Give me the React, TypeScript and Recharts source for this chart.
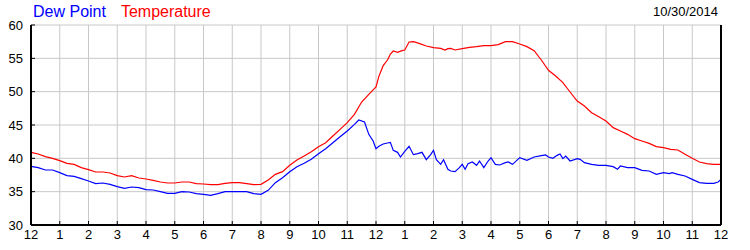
import { LineChart, Line, XAxis, YAxis, CartesianGrid } from "recharts"

const hourTicks = [0, 1, 2, 3, 4, 5, 6, 7, 8, 9, 10, 11, 12, 13, 14, 15, 16, 17, 18, 19, 20, 21, 22, 23, 24]
const hourLabels = ["12", "1", "2", "3", "4", "5", "6", "7", "8", "9", "10", "11", "12", "1", "2", "3", "4", "5", "6", "7", "8", "9", "10", "11", "12"]
const degreeTicks = [30, 35, 40, 45, 50, 55, 60]

const tempHours = [
    0, 0.25, 0.5, 0.75, 1, 1.25, 1.5, 1.75, 2, 2.25, 2.5, 2.75, 3, 3.25, 3.5, 3.75,
    4, 4.25, 4.5, 4.75, 5, 5.25, 5.5, 5.75, 6, 6.25, 6.5, 6.75, 7, 7.25, 7.5, 7.75,
    8, 8.25, 8.5, 8.75, 9, 9.25, 9.5, 9.75, 10, 10.25, 10.5, 10.75, 11, 11.25, 11.5, 11.75,
    12, 12.1, 12.25, 12.4, 12.5, 12.6, 12.75, 12.9, 13, 13.15, 13.3, 13.5, 13.75,
    14, 14.25, 14.4, 14.5, 14.6, 14.75, 15, 15.25, 15.5, 15.75, 16, 16.25, 16.5, 16.75,
    17, 17.25, 17.5, 17.75, 18, 18.25, 18.5, 18.75, 19, 19.25, 19.5, 19.75,
    20, 20.25, 20.5, 20.75, 21, 21.25, 21.5, 21.75, 22, 22.25, 22.5, 22.75, 23, 23.25, 23.5, 23.75, 24,
]
const tempValues = [
    40.9, 40.65, 40.25, 40.0, 39.65, 39.25, 39.1, 38.6, 38.3, 37.95, 37.95, 37.8, 37.4, 37.2, 37.4, 37.05,
    36.9, 36.7, 36.45, 36.3, 36.3, 36.45, 36.45, 36.2, 36.15, 36.05, 36.05, 36.25, 36.35, 36.35, 36.2, 36.05,
    36.1, 36.75, 37.6, 38.0, 38.95, 39.75, 40.35, 41.0, 41.75, 42.35, 43.35, 44.35, 45.35, 46.6, 48.45, 49.6,
    50.7, 52.3, 53.9, 54.75, 55.65, 56.1, 55.9, 56.15, 56.25, 57.45, 57.5, 57.25, 56.85,
    56.6, 56.5, 56.25, 56.45, 56.5, 56.25, 56.45, 56.65, 56.75, 56.9, 56.9, 57.05, 57.5, 57.5,
    57.15, 56.75, 56.15, 54.75, 53.2, 52.35, 51.35, 49.95, 48.6, 47.85, 46.85, 46.25,
    45.6, 44.6, 44.1, 43.6, 42.95, 42.6, 42.25, 41.75, 41.6, 41.35, 41.25, 40.6, 40.0, 39.45, 39.2, 39.1, 39.1,
]

const dewHours = [
    0, 0.25, 0.5, 0.75, 1, 1.25, 1.5, 1.75, 2, 2.25, 2.5, 2.75, 3, 3.25, 3.5, 3.75,
    4, 4.25, 4.5, 4.75, 5, 5.25, 5.5, 5.75, 6, 6.25, 6.5, 6.75, 7, 7.25, 7.5, 7.75,
    8, 8.25, 8.5, 8.75, 9, 9.25, 9.5, 9.75, 10, 10.25, 10.5, 10.75, 11, 11.25, 11.4, 11.6, 11.75, 11.9,
    12, 12.1, 12.25, 12.4, 12.5, 12.6, 12.75, 12.85, 13, 13.15, 13.3, 13.45, 13.6, 13.75, 13.9,
    14, 14.1, 14.25, 14.35, 14.5, 14.6, 14.75, 14.9, 15, 15.1, 15.2, 15.35, 15.5, 15.6, 15.75, 15.9,
    16, 16.15, 16.3, 16.5, 16.6, 16.75, 17, 17.25, 17.5, 17.75, 17.9,
    18, 18.15, 18.3, 18.4, 18.5, 18.6, 18.75, 19, 19.1, 19.25, 19.5, 19.75,
    20, 20.25, 20.4, 20.5, 20.75, 21, 21.25, 21.5, 21.75, 22, 22.2, 22.3, 22.5, 22.75,
    23, 23.25, 23.5, 23.75, 23.9, 24,
]
const dewValues = [
    38.8, 38.6, 38.25, 38.25, 37.85, 37.4, 37.3, 36.95, 36.6, 36.2, 36.3, 36.1, 35.75, 35.5, 35.7, 35.6,
    35.3, 35.25, 35.0, 34.75, 34.75, 35.0, 34.95, 34.7, 34.6, 34.45, 34.7, 35.0, 35.0, 35.0, 35.0, 34.7,
    34.6, 35.2, 36.35, 37.1, 38.0, 38.75, 39.25, 39.85, 40.7, 41.45, 42.35, 43.25, 44.1, 45.1, 45.75, 45.45, 43.6, 42.6,
    41.45, 41.8, 42.15, 42.3, 42.4, 41.2, 40.9, 40.2, 41.05, 41.8, 40.55, 40.7, 40.9, 39.8, 40.55,
    41.2, 39.8, 39.1, 39.8, 38.35, 38.1, 38.0, 38.6, 39.1, 38.35, 39.2, 39.45, 38.95, 39.6, 38.6, 39.6,
    40.1, 39.1, 39.0, 39.35, 39.45, 39.1, 40.1, 39.7, 40.2, 40.4, 40.5,
    40.2, 40.0, 40.45, 40.65, 39.95, 40.35, 39.6, 39.95, 39.85, 39.35, 39.1, 38.95,
    38.95, 38.75, 38.35, 38.85, 38.6, 38.6, 38.2, 38.1, 37.6, 37.85, 37.7, 37.85, 37.6, 37.35,
    36.85, 36.35, 36.25, 36.25, 36.45, 36.85,
]

const tempData = tempHours.map((hour, i) => ({ hour, value: tempValues[i] }))
const dewData = dewHours.map((hour, i) => ({ hour, value: dewValues[i] }))

const FONT = "'Liberation Sans', Arial, sans-serif"
const tickStyle = { fontSize: 13, fill: "#000", fontFamily: FONT }
const frame = { stroke: "#000", strokeWidth: 2 }

export default function App() {
    return (
        <div style={{ position: "absolute", left: 0, top: 0, width: 750, height: 250, fontFamily: FONT }}>
            <div style={{ position: "absolute", left: 33, top: 3, fontSize: 16, whiteSpace: "nowrap" }}>
                <span style={{ color: "#0000ff" }}>Dew Point</span>
                <span style={{ color: "#ff0000", marginLeft: 15 }}>Temperature</span>
            </div>
            <div style={{ position: "absolute", right: 32, top: 4, fontSize: 13, color: "#000" }}>10/30/2014</div>
            <LineChart width={750} height={250} margin={{ top: 25, right: 0, bottom: 0, left: 0 }}>
                <CartesianGrid stroke="#c8c8c8" yAxisId="left" />
                <XAxis
                    type="number"
                    dataKey="hour"
                    domain={[0, 24]}
                    ticks={hourTicks}
                    tickFormatter={(h: number) => hourLabels[h]}
                    interval={0}
                    height={25}
                    tick={tickStyle}
                    tickSize={-4}
                    tickMargin={9}
                    axisLine={frame}
                    tickLine={{ stroke: "#000" }}
                />
                <XAxis
                    xAxisId="top"
                    orientation="top"
                    type="number"
                    dataKey="hour"
                    domain={[0, 24]}
                    ticks={hourTicks}
                    interval={0}
                    height={0}
                    tick={false}
                    tickSize={-4}
                    axisLine={frame}
                    tickLine={{ stroke: "#000" }}
                />
                <YAxis
                    yAxisId="left"
                    domain={[30, 60]}
                    ticks={degreeTicks}
                    interval={0}
                    width={31}
                    tick={tickStyle}
                    tickSize={-4}
                    tickMargin={12}
                    axisLine={frame}
                    tickLine={{ stroke: "#000" }}
                />
                <YAxis
                    yAxisId="right"
                    orientation="right"
                    domain={[30, 60]}
                    ticks={degreeTicks}
                    interval={0}
                    width={29}
                    tick={tickStyle}
                    tickSize={-4}
                    tickMargin={9}
                    axisLine={frame}
                    tickLine={{ stroke: "#000" }}
                />
                <Line
                    yAxisId="left"
                    data={dewData}
                    dataKey="value"
                    type="linear"
                    stroke="#0000ff"
                    strokeWidth={1.2}
                    dot={false}
                    isAnimationActive={false}
                />
                <Line
                    yAxisId="left"
                    data={tempData}
                    dataKey="value"
                    type="linear"
                    stroke="#ff0000"
                    strokeWidth={1.2}
                    dot={false}
                    isAnimationActive={false}
                />
            </LineChart>
        </div>
    )
}
